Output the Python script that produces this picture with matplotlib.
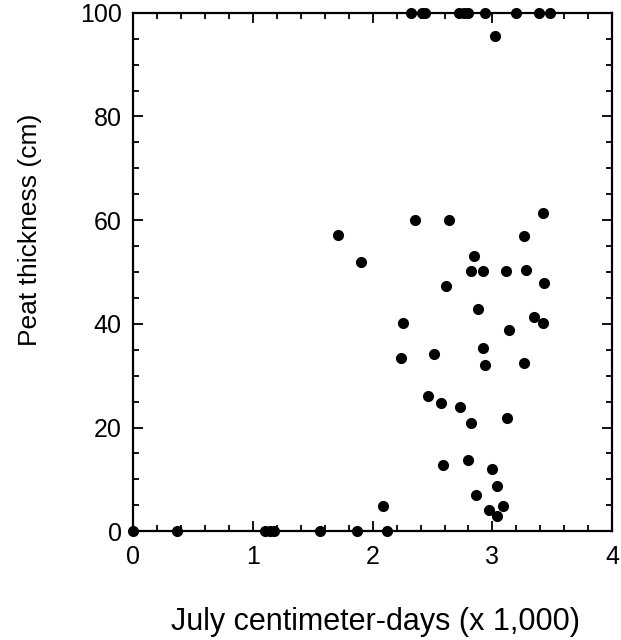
import matplotlib.pyplot as plt
from matplotlib.ticker import MultipleLocator

plt.rcParams['font.family'] = ['Liberation Sans', 'DejaVu Sans']

# July centimeter-days (thousands) and peat thickness (cm) per site
july_cm_days = [
    2.32, 2.41, 2.44, 2.72, 2.76, 2.80, 2.94, 3.20, 3.39, 3.48,
    3.02,
    3.42, 2.35, 2.64, 3.26, 1.71, 2.85, 1.90,
    2.82, 2.92, 3.11, 3.28, 3.43, 2.61,
    2.88, 3.35, 2.25, 3.42, 3.14, 2.92, 2.51, 2.24, 3.26, 2.94,
    2.46, 2.57, 2.73, 3.12, 2.82,
    2.80, 2.59, 3.00, 3.04, 2.86, 2.09, 3.09, 2.97, 3.04,
    0.00, 0.37, 1.10, 1.14, 1.18, 1.56, 1.87, 2.12,
]
peat_cm = [
    100, 100, 100, 100, 100, 100, 100, 100, 100, 100,
    95.6,
    61.3, 60.0, 60.0, 57.0, 57.1, 53.1, 52.0,
    50.1, 50.1, 50.1, 50.3, 47.8, 47.3,
    42.8, 41.4, 40.1, 40.1, 38.8, 35.3, 34.1, 33.5, 32.4, 32.0,
    26.1, 24.8, 23.9, 21.9, 20.9,
    13.8, 12.7, 12.0, 8.8, 6.9, 4.8, 4.8, 4.1, 2.9,
    0, 0, 0, 0, 0, 0, 0, 0,
]

x_ticks = [0, 1, 2, 3, 4]
y_ticks = [0, 20, 40, 60, 80, 100]

fig = plt.figure(figsize=(6.21, 6.4), dpi=100, facecolor='white')
ax = fig.add_axes([0.214, 0.170, 0.772, 0.810])

ax.plot(july_cm_days, peat_cm, 'o', color='black', markersize=7,
        clip_on=False, zorder=3)

ax.set_xlim(0, 4)
ax.set_ylim(0, 100)
ax.set_xticks(x_ticks)
ax.set_yticks(y_ticks)
ax.xaxis.set_minor_locator(MultipleLocator(0.2))
ax.yaxis.set_minor_locator(MultipleLocator(5))

ax.tick_params(which='both', direction='in', top=True, right=True,
               width=1.3, labelsize=18)
ax.tick_params(axis='x', pad=10)
ax.tick_params(axis='y', pad=8)
ax.tick_params(which='major', length=7)
ax.tick_params(which='minor', length=4)
for sp in ax.spines.values():
    sp.set_linewidth(1.6)

ax.set_xlabel('July centimeter-days (x 1,000)', fontsize=22)
ax.set_ylabel('Peat thickness (cm)', fontsize=19)
ax.xaxis.set_label_coords(0.507, -0.146)
ax.yaxis.set_label_coords(-0.19, 0.581)

fig.savefig('out.png', dpi=100)
